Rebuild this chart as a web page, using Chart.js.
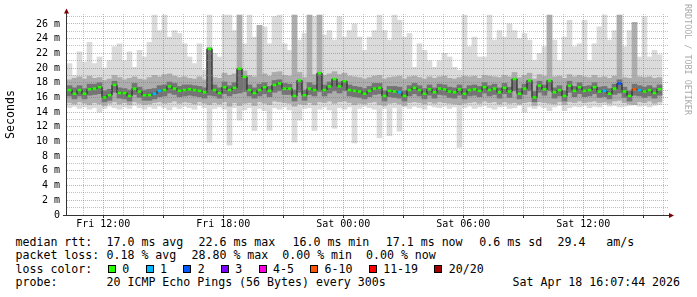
<!DOCTYPE html>
<html>
<head>
<meta charset="utf-8">
<script src="https://cdn.jsdelivr.net/npm/chart.js@4.4.1/dist/chart.umd.min.js"></script>
<style>
  html, body { margin: 0; padding: 0; background: #fff; }
  #graph { position: relative; width: 697px; height: 297px; overflow: hidden; background: #fff;
           font-family: 'DejaVu Sans Mono', monospace; color: #000; }
  #graph canvas { position: absolute; left: 0; top: 0; }
  .row { position: absolute; left: 0; width: 697px; height: 14px; font-size: 11.6px; line-height: 14px; white-space: pre; }
  .row span { position: absolute; top: 0; }
  .row .swatch { width: 6px; height: 6px; border: 1px solid #000; top: 3px; }
  #credit { position: absolute; left: 683px; top: 4px; writing-mode: vertical-rl; font-size: 8.4px;
            line-height: 10px; color: #aaa; white-space: pre; }
</style>
</head>
<body>
<div id="graph">
  <canvas id="rtt" width="697" height="232"></canvas>
  <div id="credit">RRDTOOL / TOBI OETIKER</div>
  <div class="row" style="top:235px">
    <span style="left:15.5px">median rtt:</span>
    <span style="left:106.5px">17.0 ms avg</span>
    <span style="left:198.5px">22.6 ms max</span>
    <span style="left:292.5px">16.0 ms min</span>
    <span style="left:385.8px">17.1 ms now</span>
    <span style="left:479.3px">0.6 ms sd</span>
    <span style="left:557.5px">29.4   am/s</span>
  </div>
  <div class="row" style="top:248.4px">
    <span style="left:15.5px">packet loss:</span>
    <span style="left:106.5px">0.18 % avg</span>
    <span style="left:191.5px">28.80 % max  0.00 % min  0.00 % now</span>
  </div>
  <div class="row" id="loss-row" style="top:261.8px">
    <span style="left:15.5px">loss color:</span>
  </div>
  <div class="row" style="top:275.2px">
    <span style="left:15.5px">probe:</span>
    <span style="left:106.5px">20 ICMP Echo Pings (56 Bytes) every 300s</span>
    <span style="left:512.5px">Sat Apr 18 16:07:44 2026</span>
  </div>
</div>
<script>
// hours counted from Fri 00:00, one sample every 15 minutes
const sampleStart = 10.31;
const sampleStep = 0.25;
const xMin = 10.135;
const xMax = 40.235;

const tickHours = [12, 18, 24, 30, 36];
const tickLabels = ['Fri 12:00', 'Fri 18:00', 'Sat 00:00', 'Sat 06:00', 'Sat 12:00'];

const lossLabels = ['0', '1', '2', '3', '4-5', '6-10', '11-19', '20/20'];
const lossColors = ['#26ff00', '#00b8ff', '#0059ff', '#7e00ff', '#ff00e0', '#ff5500', '#ff0000', '#a10000'];

// median round trip time (ms)
const medianRtt = [
  17.0, 16.5, 17.0, 16.5, 17.1, 17.2, 17.4, 16.0, 16.3, 17.7,
  16.6, 16.6, 16.2, 17.2, 16.8, 16.3, 16.3, 16.5, 16.9, 17.0,
  17.5, 17.2, 16.9, 17.0, 17.1, 17.0, 16.9, 16.7, 22.6, 17.0,
  16.6, 17.4, 17.0, 17.3, 19.9, 18.8, 17.0, 16.6, 17.0, 17.4,
  16.9, 17.7, 17.9, 17.2, 17.2, 16.2, 18.3, 16.3, 17.2, 17.0,
  19.3, 17.0, 17.5, 18.5, 17.5, 18.2, 17.0, 16.9, 16.8, 16.5,
  16.9, 17.2, 17.3, 16.2, 16.9, 16.8, 16.7, 16.2, 17.0, 17.3,
  17.0, 16.5, 17.1, 16.7, 17.2, 17.1, 16.8, 16.7, 17.1, 16.5,
  17.0, 17.1, 16.9, 17.4, 17.0, 17.2, 16.7, 17.3, 16.8, 18.5,
  16.5, 17.2, 18.3, 16.0, 17.6, 17.1, 18.3, 16.7, 17.0, 16.2,
  17.6, 16.9, 17.4, 16.9, 17.0, 17.4, 16.8, 16.9, 16.5, 17.2,
  17.9, 16.8, 16.2, 17.1, 17.0, 16.8, 17.0, 16.6, 17.1
];

// lost pings out of 20
const lossCount = [
  0, 0, 0, 0, 0, 0, 0, 0, 0, 0,
  0, 0, 0, 0, 0, 0, 0, 1, 1, 0,
  0, 0, 0, 0, 0, 0, 0, 0, 0, 0,
  0, 0, 0, 0, 0, 0, 0, 0, 0, 0,
  0, 0, 0, 0, 0, 0, 0, 0, 0, 0,
  0, 0, 0, 0, 0, 0, 0, 0, 0, 0,
  0, 0, 0, 0, 0, 0, 1, 0, 0, 0,
  0, 0, 0, 0, 0, 0, 0, 0, 0, 0,
  0, 0, 0, 0, 0, 0, 0, 0, 0, 0,
  0, 0, 0, 0, 0, 0, 0, 0, 0, 0,
  0, 0, 0, 0, 0, 0, 0, 1, 0, 0,
  2, 0, 0, 6, 1, 0, 0, 0, 0
];

// outer smoke: slowest and fastest ping
const smokeTop = [
  20.6, 19.0, 22.2, 20.8, 23.5, 20.6, 21.5, 20.0, 21.0, 22.9,
  23.3, 21.0, 22.2, 20.1, 22.4, 21.5, 23.5, 27.2, 25.1, 27.2,
  24.2, 25.1, 24.7, 23.3, 21.5, 20.6, 23.3, 19.7, 27.2, 22.0,
  21.5, 27.2, 27.2, 25.1, 27.2, 23.3, 27.2, 24.2, 25.8, 25.6,
  23.3, 27.0, 27.2, 23.3, 22.4, 27.2, 23.8, 24.7, 27.2, 27.0,
  27.2, 24.5, 25.1, 23.8, 27.0, 24.2, 25.1, 26.0, 24.2, 22.4,
  24.2, 25.1, 27.2, 25.1, 23.8, 27.2, 26.5, 24.2, 24.7, 20.1,
  23.3, 22.4, 21.0, 20.1, 21.0, 22.0, 21.5, 20.1, 19.7, 27.2,
  22.9, 24.2, 21.5, 21.5, 27.2, 23.8, 25.1, 24.2, 26.0, 25.1,
  24.0, 24.7, 23.8, 21.0, 22.0, 22.9, 27.2, 23.8, 21.0, 24.2,
  26.5, 22.9, 23.3, 26.5, 21.0, 23.3, 25.6, 27.2, 23.8, 25.1,
  27.2, 22.9, 25.1, 26.2, 21.5, 27.0, 21.5, 22.4, 21.8
];
const smokeBottom = [
  14.6, 14.8, 14.5, 14.7, 14.4, 14.6, 14.0, 14.5, 14.8, 14.6,
  14.4, 14.7, 14.5, 14.9, 14.6, 14.4, 14.7, 14.5, 14.8, 14.6,
  14.3, 14.7, 14.5, 14.8, 14.6, 14.4, 14.9, 14.6, 9.9, 14.5,
  14.7, 14.4, 9.5, 14.6, 12.9, 14.3, 14.6, 11.5, 14.5, 14.2,
  11.5, 14.6, 14.4, 14.7, 14.3, 9.9, 12.9, 14.5, 14.6, 11.5,
  14.4, 14.7, 14.3, 11.8, 14.6, 14.4, 14.7, 9.8, 14.5, 14.8,
  14.6, 14.4, 10.5, 14.5, 10.8, 14.6, 11.4, 14.7, 14.5, 14.8,
  14.6, 14.4, 14.9, 14.7, 14.6, 14.8, 14.5, 14.7, 9.2, 14.6,
  14.8, 14.5, 14.7, 14.9, 14.6, 14.4, 14.7, 14.8, 14.5, 14.6,
  14.9, 14.0, 14.7, 14.5, 14.8, 14.6, 14.2, 14.7, 14.9, 14.2,
  14.6, 14.8, 14.7, 14.9, 14.6, 14.8, 14.7, 15.0, 14.8, 14.9,
  14.7, 14.8, 14.9, 15.0, 14.8, 14.9, 14.7, 14.9, 15.0
];

// middle smoke
const midTop = [
  18.4, 18.6, 18.8, 18.5, 18.9, 18.6, 18.7, 18.3, 18.5, 19.0,
  18.7, 18.4, 18.6, 18.8, 18.5, 18.4, 18.7, 19.0, 18.8, 19.1,
  19.2, 18.9, 18.7, 18.8, 18.6, 18.5, 18.8, 18.4, 22.8, 18.7,
  18.6, 19.3, 19.0, 19.2, 27.2, 19.6, 19.0, 18.8, 25.8, 19.2,
  18.9, 19.4, 19.5, 19.0, 18.9, 27.2, 19.4, 18.7, 27.2, 19.1,
  27.2, 19.0, 19.2, 19.5, 19.1, 19.3, 18.9, 18.8, 18.7, 18.5,
  18.7, 18.9, 19.0, 18.5, 18.7, 18.8, 18.9, 18.5, 18.8, 18.9,
  18.7, 18.5, 18.8, 18.6, 18.8, 18.9, 18.6, 18.5, 18.7, 18.9,
  18.8, 18.9, 18.6, 19.0, 18.9, 18.8, 18.7, 19.0, 18.8, 19.4,
  18.7, 19.0, 19.3, 18.5, 19.1, 18.9, 27.2, 18.8, 18.9, 18.6,
  19.1, 18.8, 19.0, 18.8, 18.7, 19.0, 18.7, 18.8, 18.6, 18.9,
  27.2, 18.7, 18.6, 26.2, 18.8, 18.7, 18.8, 18.6, 18.7
];
const midBottom = [
  15.3, 15.1, 15.4, 15.2, 15.0, 15.3, 15.1, 14.9, 15.2, 15.4,
  15.1, 15.3, 15.0, 15.4, 15.2, 15.0, 15.1, 15.3, 15.4, 15.2,
  15.3, 15.5, 15.2, 15.4, 15.3, 15.1, 15.4, 15.2, 15.0, 15.3,
  15.1, 15.4, 14.8, 15.3, 14.9, 15.2, 15.3, 14.9, 15.4, 15.2,
  15.0, 15.5, 15.4, 15.3, 15.2, 14.8, 15.1, 15.0, 15.3, 15.0,
  15.4, 15.3, 15.5, 15.2, 15.4, 15.5, 15.3, 15.0, 15.2, 15.1,
  15.3, 15.4, 15.0, 14.9, 15.2, 15.3, 15.1, 14.9, 15.3, 15.4,
  15.3, 15.1, 15.4, 15.2, 15.4, 15.3, 15.2, 15.1, 15.0, 15.2,
  15.3, 15.4, 15.2, 15.5, 15.3, 15.4, 15.1, 15.4, 15.2, 15.3,
  15.1, 15.3, 15.4, 14.9, 15.4, 15.3, 15.2, 15.1, 15.4, 15.0,
  15.4, 15.3, 15.5, 15.3, 15.4, 15.5, 15.3, 15.4, 15.2, 15.5,
  15.6, 15.3, 15.1, 15.0, 15.4, 15.3, 15.5, 15.2, 15.4
];

// inner smoke around the median
const coreTop = [
  17.6, 17.3, 17.6, 17.2, 17.8, 17.8, 18.0, 16.9, 17.1, 18.2,
  17.3, 17.2, 17.0, 17.9, 17.4, 17.0, 17.1, 17.2, 17.6, 17.7,
  18.1, 17.9, 17.5, 17.7, 17.7, 17.6, 17.5, 17.3, 22.6, 17.7,
  17.3, 18.1, 17.6, 18.0, 19.9, 18.8, 17.7, 17.3, 17.8, 18.0,
  17.5, 18.3, 18.4, 17.9, 17.8, 17.0, 18.3, 17.0, 18.0, 17.7,
  19.3, 17.7, 18.1, 18.5, 18.1, 18.2, 17.7, 17.5, 17.4, 17.2,
  17.5, 17.9, 17.9, 16.9, 17.5, 17.5, 17.4, 16.9, 17.6, 17.9,
  17.6, 17.2, 17.7, 17.3, 17.8, 17.7, 17.4, 17.3, 17.7, 17.2,
  17.6, 17.7, 17.5, 18.0, 17.6, 17.8, 17.3, 17.9, 17.4, 18.5,
  17.2, 17.8, 18.3, 16.8, 18.2, 17.7, 18.3, 17.3, 17.6, 16.9,
  18.2, 17.5, 18.0, 17.5, 17.6, 18.0, 17.4, 17.5, 17.2, 17.8,
  18.4, 17.4, 16.9, 17.8, 17.6, 17.4, 17.6, 17.3, 17.7
];
const coreBottom = [
  16.2, 15.8, 16.2, 15.8, 16.3, 16.4, 16.5, 15.4, 15.6, 16.7,
  15.9, 15.8, 15.5, 16.4, 16.0, 15.6, 15.6, 15.8, 16.1, 16.2,
  16.6, 16.4, 16.1, 16.2, 16.3, 16.2, 16.1, 15.9, 16.3, 16.2,
  15.9, 16.5, 16.2, 16.5, 16.6, 16.8, 16.2, 15.9, 16.2, 16.5,
  16.1, 16.7, 16.9, 16.4, 16.4, 15.5, 16.7, 15.6, 16.4, 16.2,
  16.8, 16.2, 16.6, 16.9, 16.6, 16.9, 16.2, 16.1, 16.0, 15.8,
  16.1, 16.4, 16.5, 15.5, 16.1, 16.0, 15.9, 15.5, 16.2, 16.5,
  16.2, 15.8, 16.3, 15.9, 16.4, 16.3, 16.0, 15.9, 16.3, 15.8,
  16.2, 16.3, 16.1, 16.6, 16.2, 16.4, 15.9, 16.5, 16.0, 16.9,
  15.8, 16.4, 16.9, 15.4, 16.7, 16.3, 16.9, 15.9, 16.2, 15.5,
  16.7, 16.1, 16.5, 16.1, 16.2, 16.5, 16.0, 16.1, 15.8, 16.4,
  16.6, 16.0, 15.5, 16.3, 16.2, 16.0, 16.2, 15.9, 16.3
];

const majorGrid = 'rgba(222, 80, 80, 0.55)';
const minorGrid = 'rgba(143, 143, 143, 0.55)';

// loss colour legend row
const lossRow = document.getElementById('loss-row');
let swatchX = 108;
lossLabels.forEach((label, k) => {
  const box = document.createElement('span');
  box.className = 'swatch';
  box.style.left = swatchX + 'px';
  box.style.background = lossColors[k];
  lossRow.appendChild(box);
  const text = document.createElement('span');
  text.textContent = label;
  text.style.left = (swatchX + 14.3) + 'px';
  lossRow.appendChild(text);
  swatchX += 14.3 + label.length * 6.97 + 16.4;
});

const lossIndex = n => n <= 3 ? n : n <= 5 ? 4 : n <= 10 ? 5 : n < 20 ? 6 : 7;
const hours = medianRtt.map((_, i) => sampleStart + i * sampleStep);
const band = (lo, hi) => hours.map((h, i) => ({ x: h, y: [lo[i], hi[i]] }));

// axis arrows like rrdtool draws them
const axisArrows = {
  id: 'axisArrows',
  afterDraw(chart) {
    const { ctx, chartArea: { left, right, bottom, top } } = chart;
    const ax = left + 0.5;
    const ay = bottom + 0.5;
    ctx.save();
    ctx.strokeStyle = '#333';
    ctx.lineWidth = 1;
    ctx.beginPath();
    ctx.moveTo(ax, top + 1);
    ctx.lineTo(ax, top - 2);
    ctx.moveTo(left - 3, ay);
    ctx.lineTo(right + 2, ay);
    ctx.stroke();
    ctx.fillStyle = '#7f0000';
    ctx.beginPath();
    ctx.moveTo(ax - 2.5, top - 0.5);
    ctx.lineTo(ax + 2.5, top - 0.5);
    ctx.lineTo(ax, top - 5.5);
    ctx.closePath();
    ctx.fill();
    ctx.beginPath();
    ctx.moveTo(right + 1, ay - 2.5);
    ctx.lineTo(right + 1, ay + 2.5);
    ctx.lineTo(right + 6, ay);
    ctx.closePath();
    ctx.fill();
    ctx.restore();
  }
};

const tickFont = { family: 'DejaVu Sans Mono', size: 10 };

new Chart(document.getElementById('rtt'), {
  type: 'bar',
  data: {
    datasets: [
      {
        type: 'line',
        label: 'median rtt',
        data: hours.map((h, i) => ({ x: h, y: medianRtt[i] })),
        stepped: 'middle',
        borderColor: '#1c1c1c',
        borderWidth: 1,
        pointStyle: 'line',
        pointRadius: 2,
        pointBorderWidth: 2.5,
        pointBorderColor: lossCount.map(n => lossColors[lossIndex(n)]),
        pointBackgroundColor: lossCount.map(n => lossColors[lossIndex(n)]),
        order: 0
      },
      { label: 'core', data: band(coreBottom, coreTop), backgroundColor: '#747474', order: 1 },
      { label: 'mid', data: band(midBottom, midTop), backgroundColor: '#adadad', order: 2 },
      { label: 'outer', data: band(smokeBottom, smokeTop), backgroundColor: '#dbdbdb', order: 3 }
    ]
  },
  options: {
    responsive: false,
    animation: false,
    devicePixelRatio: 1,
    events: [],
    layout: { padding: { top: 14, right: 29, bottom: 0, left: 0 } },
    datasets: {
      bar: { grouped: false, barPercentage: 1, categoryPercentage: 1, borderWidth: 0 }
    },
    plugins: { legend: { display: false }, tooltip: { enabled: false } },
    scales: {
      x: {
        type: 'linear',
        min: xMin,
        max: xMax,
        offset: false,
        afterFit: scale => { scale.height = 17; },
        grid: {
          z: 1,
          offset: false,
          lineWidth: 1,
          color: c => (c.tick && c.tick.value % 3 === 0) ? majorGrid : minorGrid,
          drawTicks: true,
          tickLength: 3,
          tickColor: c => (c.tick && c.tick.value % 3 === 0) ? '#333' : 'rgba(0,0,0,0)'
        },
        border: { color: '#333', width: 1, dash: [1, 1], z: 1 },
        ticks: {
          stepSize: 1,
          maxTicksLimit: 100,
          includeBounds: false,
          autoSkip: false,
          maxRotation: 0,
          minRotation: 0,
          padding: 0,
          color: '#000',
          font: tickFont,
          callback: v => {
            const k = tickHours.indexOf(v);
            return k >= 0 ? tickLabels[k] : '';
          }
        }
      },
      y: {
        min: 0,
        max: 27.35,
        afterFit: scale => { scale.width = 66; },
        grid: {
          z: 1,
          lineWidth: 1,
          drawTicks: false,
          color: c => (c.tick && c.tick.value % 2 === 0) ? majorGrid : minorGrid
        },
        border: { color: '#333', width: 1, dash: [1, 1], z: 1 },
        title: {
          display: true,
          text: 'Seconds',
          color: '#000',
          padding: { top: 4, bottom: 0 },
          font: { family: 'DejaVu Sans Mono', size: 11.6 }
        },
        ticks: {
          stepSize: 1,
          maxTicksLimit: 100,
          includeBounds: false,
          autoSkip: false,
          padding: 6,
          color: '#000',
          font: tickFont,
          callback: v => v % 2 ? '' : (v === 0 ? '0' : v + ' m')
        }
      }
    }
  },
  plugins: [axisArrows]
});
</script>
</body>
</html>
